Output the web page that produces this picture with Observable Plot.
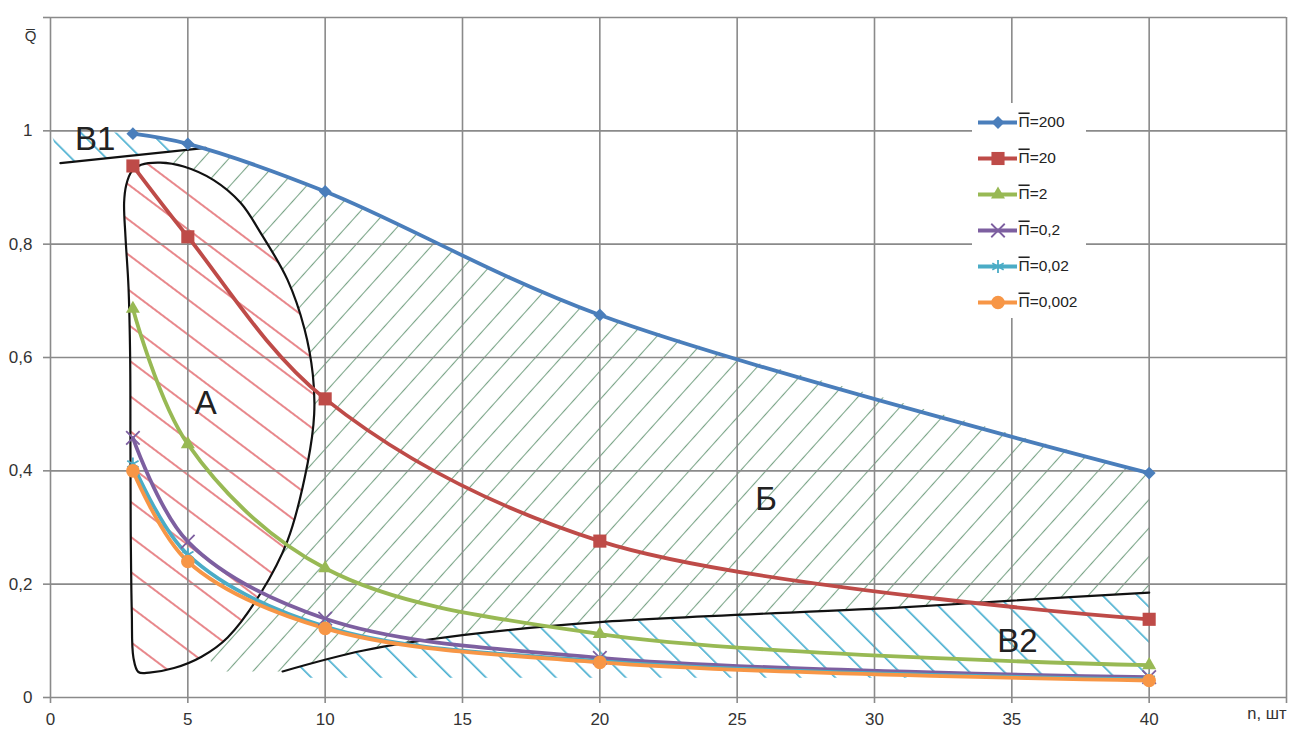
<!DOCTYPE html>
<html><head><meta charset="utf-8">
<script src="https://cdn.jsdelivr.net/npm/d3@7"></script>
<script src="https://cdn.jsdelivr.net/npm/@observablehq/plot@0.6"></script>
<style>
html,body{margin:0;padding:0;background:#fff;}
#wrap{position:relative;width:1290px;height:729px;overflow:hidden;}
#legend{position:absolute;left:972px;top:103px;background:#fff;}
svg{display:block;}
</style></head><body>
<div id="wrap"><div id="chart"></div><div id="legend"></div></div>
<script>
// ---- data ----
const nValues = [3, 5, 10, 20, 40];
const seriesNames = ["П=200", "П=20", "П=2", "П=0,2", "П=0,02", "П=0,002"];
const q200  = [0.995, 0.977, 0.893, 0.675, 0.396];
const q20   = [0.938, 0.813, 0.527, 0.276, 0.138];
const q2    = [0.686, 0.447, 0.228, 0.112, 0.057];
const q02   = [0.458, 0.275, 0.139, 0.070, 0.036];
const q002  = [0.412, 0.252, 0.125, 0.064, 0.032];
const q0002 = [0.400, 0.240, 0.122, 0.062, 0.030];
const seriesValues = [q200, q20, q2, q02, q002, q0002];

const xTicks = [0, 5, 10, 15, 20, 25, 30, 35, 40, 45];
const yTicks = [0, 0.2, 0.4, 0.6, 0.8, 1.0, 1.2];

// hand-drawn region outlines (data coordinates)
const regionA = [[4.0,0.944],[4.85,0.937],[5.94,0.913],[6.92,0.873],[7.65,0.82],[8.63,0.737],[9.25,0.65],[9.55,0.57],[9.6,0.5],[9.36,0.413],[8.63,0.277],[7.65,0.184],[6.45,0.106],[5.5,0.072],[4.5,0.052],[3.6,0.044],[3.2,0.045],[3.02,0.07],[2.96,0.15],[2.92,0.3],[2.91,0.45],[2.9,0.6],[2.84,0.724],[2.73,0.813],[2.68,0.873],[2.76,0.905],[2.95,0.928],[3.3,0.94]];
const lineB1 = [[0.36,0.943],[5.65,0.970]];
const lineB2 = [[8.45,0.046],[11.4,0.083],[15,0.110],[20,0.133],[31,0.159],[35,0.171],[40,0.185]];
const regionB = [[5.65,0.970],[7.5,0.942],[10,0.893],[12.5,0.835],[15,0.778],[17.5,0.727],[20,0.675],[25,0.6],[30,0.534],[35,0.465],[40,0.396],[40,0.185],[35,0.171],[31,0.159],[20,0.133],[15,0.110],[11.4,0.083],[8.45,0.046],[5.95,0.046],[5.6,0.1],[5.0,0.5],[4.3,0.93],[4.3,0.962]];
const regionB1 = [[0,1.0],[3,0.996],[4,0.99],[5,0.977],[5.65,0.970],[0.36,0.943]];
const regionB2 = [[8.45,0.046],[11.4,0.083],[15,0.110],[20,0.133],[31,0.159],[35,0.171],[40,0.185],[40,0.035],[8.7,0.035]];

const regionLabels = ["В1", "А", "Б", "В2"];
const regionLabelX = [1.63, 5.65, 26.05, 35.2];
const regionLabelY = [0.984, 0.519, 0.35, 0.099];

// ---- styles ----
const seriesColors = ["#4a7ebb", "#be4b48", "#98b954", "#7d5fa0", "#4bacc6", "#f79646"];
const seriesSymbols = ["diamond2", "square", "triangle", "times", "asterisk", "circle"];
const markerR = [5.8, 7.4, 5.2, 6.2, 6.2, 6.8];
const strokeSymbols = new Set(["times", "asterisk"]);

const rows = seriesNames.flatMap((name, i) => nValues.map((n, j) => ({series: name, n, q: seriesValues[i][j]})));

const font = "'Liberation Sans', Arial, 'DejaVu Sans', sans-serif";
const fmtY = d => Math.abs(d - 1.2) < 1e-9 ? "" : String(Math.round(d * 10) / 10).replace(".", ",");
const fmtX = d => d === 45 ? "" : String(d);

const dotMarks = seriesNames.map((name, i) => {
  const sym = seriesSymbols[i];
  const data = rows.filter(d => d.series === name);
  return strokeSymbols.has(sym)
    ? Plot.dot(data, {x: "n", y: "q", symbol: () => sym, stroke: seriesColors[i], strokeWidth: 1.8, r: markerR[i]})
    : Plot.dot(data, {x: "n", y: "q", symbol: () => sym, fill: seriesColors[i], r: markerR[i]});
});

const chart = Plot.plot({
  width: 1290, height: 729,
  marginLeft: 50, marginRight: 4, marginTop: 17, marginBottom: 32,
  style: {fontFamily: font, background: "#fff", overflow: "visible"},
  x: {domain: [0, 45]},
  y: {domain: [0, 1.2]},
  color: {domain: seriesNames, range: seriesColors},
  symbol: {domain: seriesNames, range: seriesSymbols},
  marks: [
    Plot.line(regionB, {x: d => d[0], y: d => d[1], fill: "url(#hatchGreen)", stroke: "none", curve: "linear"}),
    Plot.line(regionB1, {x: d => d[0], y: d => d[1], fill: "url(#hatchCyan)", stroke: "none", curve: "linear"}),
    Plot.line(regionB2, {x: d => d[0], y: d => d[1], fill: "url(#hatchCyan)", stroke: "none", curve: "linear"}),
    Plot.line(regionA, {x: d => d[0], y: d => d[1], fill: "url(#hatchRed)", stroke: "none", curve: "catmull-rom-closed"}),
    Plot.gridX(xTicks, {stroke: "#8a8a8a", strokeOpacity: 1, strokeWidth: 1.6}),
    Plot.gridY(yTicks, {stroke: "#8a8a8a", strokeOpacity: 1, strokeWidth: 1.6}),
    Plot.axisX(xTicks, {tickSize: 6, tickPadding: 9, tickFormat: fmtX, stroke: "#8a8a8a", strokeWidth: 1.6, fill: "#333", fontSize: 17, label: null}),
    Plot.axisY(yTicks, {tickSize: 7, tickPadding: 11, tickFormat: fmtY, stroke: "#8a8a8a", strokeWidth: 1.6, fill: "#333", fontSize: 17, label: null}),
    Plot.line(regionA, {x: d => d[0], y: d => d[1], stroke: "#111", strokeWidth: 2.2, curve: "catmull-rom-closed"}),
    Plot.line(lineB1, {x: d => d[0], y: d => d[1], stroke: "#111", strokeWidth: 2.2}),
    Plot.line(lineB2, {x: d => d[0], y: d => d[1], stroke: "#111", strokeWidth: 2.2, curve: "catmull-rom"}),
    Plot.line(rows, {x: "n", y: "q", z: "series", stroke: "series", strokeWidth: 3.8, curve: "catmull-rom"}),
    ...dotMarks,
    Plot.text(regionLabels, {x: (d, i) => regionLabelX[i], y: (d, i) => regionLabelY[i], text: d => d, fontSize: 33, fill: "#222"}),
    Plot.text(["n, шт"], {frameAnchor: "bottom-right", dx: 0, dy: 21, textAnchor: "end", fontSize: 16.5, fill: "#333"}),
    Plot.text(["Q\u0305"], {frameAnchor: "top-left", dx: -20, dy: 13, textAnchor: "middle", fontSize: 15, fill: "#333"})
  ]
});

const ns = "http://www.w3.org/2000/svg";
const defs = document.createElementNS(ns, "defs");
defs.innerHTML = `
<pattern id="hatchGreen" patternUnits="userSpaceOnUse" width="20" height="19" patternTransform="rotate(-48)">
  <line x1="0" y1="9.5" x2="20" y2="9.5" stroke="#7aa487" stroke-width="1.1"/>
</pattern>
<pattern id="hatchCyan" patternUnits="userSpaceOnUse" width="20" height="24.7" patternTransform="rotate(45)">
  <line x1="0" y1="12" x2="20" y2="12" stroke="#35a6cb" stroke-width="1.5"/>
</pattern>
<pattern id="hatchRed" patternUnits="userSpaceOnUse" width="20" height="28" patternTransform="rotate(37)">
  <rect x="0" y="0" width="20" height="28" fill="#fff"/>
  <line x1="0" y1="14" x2="20" y2="14" stroke="#d9383f" stroke-width="1.2"/>
</pattern>`;
chart.insertBefore(defs, chart.firstChild);
document.getElementById("chart").appendChild(chart);

// ---- legend (small Plot placed inside the plot area) ----
const legendX = [0, 114];
const legend = Plot.plot({
  width: 114, height: 215, margin: 0,
  style: {fontFamily: font, background: "#fff"},
  x: {domain: legendX, axis: null},
  y: {type: "point", domain: seriesNames, range: [17, 200], padding: 0, axis: null},
  marks: [
    Plot.ruleY(seriesNames, {y: d => d, x1: 6, x2: 45, stroke: (d, i) => seriesColors[i], strokeWidth: 3.8}),
    ...seriesNames.map((name, i) => strokeSymbols.has(seriesSymbols[i])
      ? Plot.dot([name], {x: 25.5, y: d => d, symbol: () => seriesSymbols[i], stroke: seriesColors[i], strokeWidth: 1.8, r: markerR[i]})
      : Plot.dot([name], {x: 25.5, y: d => d, symbol: () => seriesSymbols[i], fill: seriesColors[i], r: markerR[i]})),
    Plot.text(seriesNames, {x: 46, y: d => d, text: d => d, textAnchor: "start", fontSize: 15.5, fill: "#222"})
  ]
});
// overline over the П letter (П̄)
legend.querySelectorAll("text").forEach(t => {
  const s = t.textContent;
  if (s.startsWith("П")) {
    t.textContent = "";
    const a = document.createElementNS(ns, "tspan");
    a.setAttribute("style", "text-decoration: overline");
    a.textContent = "П";
    const b = document.createElementNS(ns, "tspan");
    b.textContent = s.slice(1);
    t.appendChild(a); t.appendChild(b);
  }
});
document.getElementById("legend").appendChild(legend);
</script>
</body></html>
